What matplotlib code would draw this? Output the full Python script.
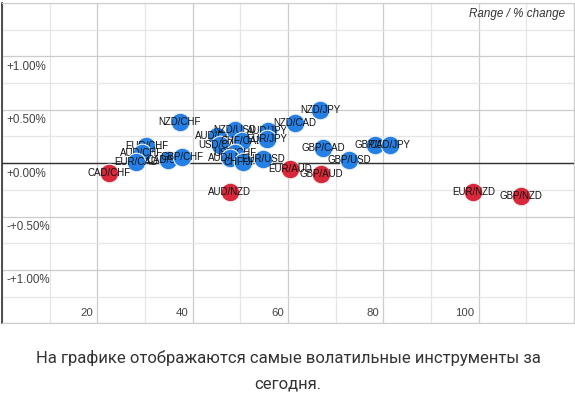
import matplotlib
matplotlib.use("Agg")
from matplotlib import pyplot as plt
from matplotlib.ticker import MultipleLocator

plt.rcParams["font.family"] = ["Liberation Sans", "DejaVu Sans"]

# Range (x) / % change (y)
up_names = ["NZD/CHF", "EUR/CHF", "AUD/CHF", "EUR/CAD", "CAD/SGD", "GBP/CHF",
            "AUD/CAD", "NZD/USD", "USD/CAD", "CHF/CAD", "USD/CHF", "AUD/USD",
            "CHF/JPY", "EUR/USD", "AUD/JPY", "EUR/JPY", "NZD/CAD", "NZD/JPY",
            "GBP/CAD", "GBP/JPY", "CAD/JPY", "GBP/USD"]
up_range = [37.3, 30.3, 29.3, 28.2, 34.9, 37.7,
            45.1, 48.9, 45.7, 50.3, 48.8, 47.8,
            50.6, 54.8, 55.8, 55.5, 61.4, 66.7,
            67.4, 78.2, 81.5, 72.9]
up_change = [0.39, 0.156, 0.094, 0.015, 0.031, 0.062,
             0.256, 0.312, 0.171, 0.209, 0.094, 0.050,
             0.015, 0.040, 0.303, 0.228, 0.378, 0.500,
             0.141, 0.172, 0.172, 0.031]

down_names = ["CAD/CHF", "AUD/NZD", "EUR/AUD", "GBP/AUD", "EUR/NZD", "GBP/NZD"]
down_range = [22.5, 47.8, 60.4, 66.9, 98.9, 108.9]
down_change = [-0.094, -0.269, -0.053, -0.100, -0.268, -0.307]

x_ticks = [20, 40, 60, 80, 100]
y_ticks = [1.0, 0.5, 0.0, -0.5, -1.0]
y_tick_labels = ["+1.00%", "+0.50%", "+0.00%", "-+0.50%", "-+1.00%"]

BLUE = "#2480e4"
RED = "#d8283a"

fig = plt.figure(figsize=(5.75, 3.96), dpi=100)
ax = fig.add_axes([2 / 575, 72.7 / 396, 572 / 575, 320.3 / 396])
ax.set_xlim(0, 120)
ax.set_ylim(-1.5, 1.5)

ax.xaxis.set_major_locator(MultipleLocator(20))
ax.xaxis.set_minor_locator(MultipleLocator(10))
ax.yaxis.set_major_locator(MultipleLocator(0.5))
ax.yaxis.set_minor_locator(MultipleLocator(0.25))
ax.grid(which="major", color="#cccccc", lw=0.9)
ax.grid(which="minor", color="#e6e6e6", lw=0.9)
ax.set_axisbelow(True)
ax.tick_params(which="both", length=0, labelbottom=False, labelleft=False)
for side in ["top", "right", "bottom"]:
    ax.spines[side].set_color("#cccccc")
ax.spines["left"].set_color("#333333")
ax.spines["left"].set_linewidth(1.2)
ax.axhline(0, color="#333333", lw=1.0, zorder=1)

# tick labels sit inside the plot area
for xv in x_ticks:
    ax.annotate(str(xv), (xv, -1.5), xytext=(-3, 3.6), textcoords="offset points",
                ha="right", va="bottom", fontsize=8.2, color="#444444")
for yv, lab in zip(y_ticks, y_tick_labels):
    ax.annotate(lab, (0, yv), xytext=(3.5, -7.5), textcoords="offset points",
                ha="left", va="center", fontsize=8.4, color="#444444")

ax.text(0.985, 0.965, "Range / % change", transform=ax.transAxes, ha="right",
        va="center", fontsize=8.4, style="italic", color="#333333")

z = 3
for names, xs, ys, col in [(up_names, up_range, up_change, BLUE),
                           (down_names, down_range, down_change, RED)]:
    for n, xv, yv in zip(names, xs, ys):
        ax.scatter([xv], [yv], s=180, color=col, edgecolors="#f0f0f0",
                   linewidths=0.8, zorder=z)
        ax.text(xv, yv, n, ha="center", va="center", fontsize=7,
                color="#111111", zorder=z + 1)
        z += 2

caption_font = ["Roboto", "DejaVu Sans"]
fig.text(288 / 575, 1 - 358 / 396,
         "На графике отображаются самые волатильные инструменты за",
         ha="center", va="center", fontsize=12, color="#333333", family=caption_font)
fig.text(288 / 575, 1 - 384 / 396, "сегодня.",
         ha="center", va="center", fontsize=12, color="#333333", family=caption_font)

fig.savefig("out.png", dpi=100)
